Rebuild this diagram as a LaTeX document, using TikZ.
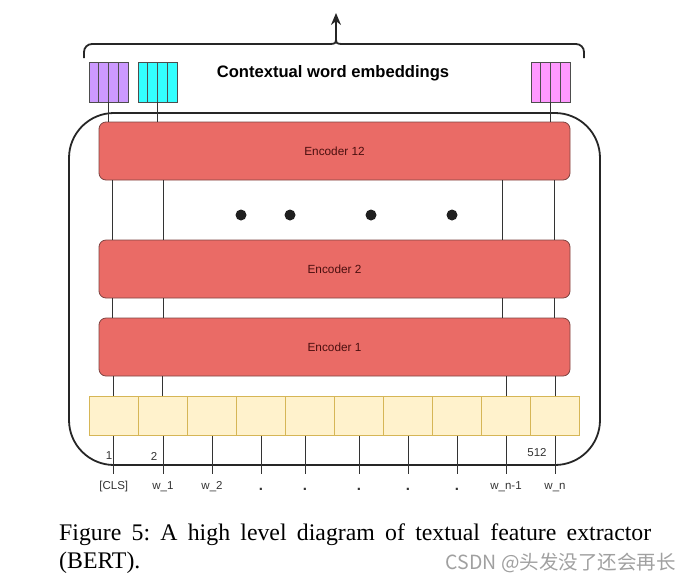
\documentclass[tikz,border=0pt]{standalone}
\usepackage{fontspec}
\setmainfont{Liberation Serif}
\newfontfamily\arialf{Liberation Sans}
\newfontfamily\cjkf{Noto Sans CJK SC}
\usetikzlibrary{arrows.meta,calc}
\definecolor{encfill}{HTML}{EA6B66}
\definecolor{encdraw}{HTML}{7E4442}
\definecolor{enctext}{HTML}{4A0F0F}
\definecolor{cellfill}{HTML}{FFF2CC}
\definecolor{celldraw}{HTML}{D6B656}
\definecolor{purpfill}{HTML}{CC99FF}
\definecolor{cyanfill}{HTML}{33FFFF}
\definecolor{pinkfill}{HTML}{FF99FF}
\definecolor{embdraw}{HTML}{4D4D4D}
\definecolor{linegray}{HTML}{333333}
\definecolor{wmgray}{HTML}{A0A0A0}
\frenchspacing
\begin{document}
\begin{tikzpicture}[x=1pt,y=-1pt,
  encoder/.style={draw=encdraw, line width=0.8pt, fill=encfill, rounded corners=7pt,
    minimum width=471pt, minimum height=58pt, inner sep=0,
    font=\arialf\fontsize{11.8}{12}\selectfont, text=enctext},
  cellbox/.style={draw=celldraw, line width=0.6pt, fill=cellfill,
    minimum width=49.03pt, minimum height=39pt, inner sep=0},
  stripe/.style={draw=embdraw, line width=0.7pt, minimum width=9.75pt,
    minimum height=40pt, inner sep=0},
  wire/.style={draw=linegray, line width=0.8pt},
  toklabel/.style={font=\arialf\fontsize{11.5}{12}\selectfont, text=linegray,
    inner sep=0, anchor=base},
  dotlabel/.style={font=\arialf\bfseries\fontsize{15}{15}\selectfont, text=linegray,
    inner sep=0, anchor=base},
  posnum/.style={font=\arialf\fontsize{11.5}{12}\selectfont, text=linegray, inner sep=0},
  bigdot/.style={circle, fill=black!88, inner sep=0, minimum size=11pt},
  outerbox/.style={draw=black!85, line width=1.8pt, rounded corners=45pt,
    minimum width=531pt, minimum height=352pt, inner sep=0},
]
\useasboundingbox (0,0) rectangle (690,582);

% outer container
\node[outerbox] (outer) at (334.5,289) {};

% encoders
\node[encoder] (enc12) at (334.5,151) {Encoder 12};
\node[encoder] (enc2) at (334.5,269) {Encoder 2};
\node[encoder] (enc1) at (334.5,347) {Encoder 1};

% embedding stripes
\foreach \i in {1,...,4}{
  \node[stripe, fill=purpfill] (p\i) at ({89+4.875+9.75*(\i-1)},82) {};
  \node[stripe, fill=cyanfill] (c\i) at ({138+4.875+9.75*(\i-1)},82) {};
  \node[stripe, fill=pinkfill] (k\i) at ({531+4.875+9.75*(\i-1)},82) {};
}

% title
\node[font=\arialf\bfseries\fontsize{16.6}{18}\selectfont] (title) at (333,73) {Contextual word embeddings};

% wires from embeddings to encoder 12
\draw[wire] (p2.south east) -- (p2.south east |- enc12.north);
\draw[wire] (c2.south east) -- (c2.south east |- enc12.north);
\draw[wire] (k2.south east) -- (k2.south east |- enc12.north);

% column coordinates between encoders
\coordinate (xa) at (112,0);
\coordinate (xb) at (163,0);
\coordinate (xc) at (502,0);
\coordinate (xd) at (554,0);
\foreach \c in {xa,xb,xc,xd}{
  \draw[wire] (enc12.south -| \c) -- (enc2.north -| \c);
  \draw[wire] (enc2.south -| \c) -- (enc1.north -| \c);
}

% big dots
\node[bigdot] (d1) at (241,215) {};
\node[bigdot] (d2) at (290,215) {};
\node[bigdot] (d3) at (371,215) {};
\node[bigdot] (d4) at (452,215) {};

% token cells
\foreach \i in {1,...,10}{
  \node[cellbox] (cell\i) at ({89.3+24.515+49.03*(\i-1)},416) {};
}

% wires from encoder 1 to cells
\foreach \i in {1,2,9,10}{
  \draw[wire] (cell\i.north) -- (cell\i.north |- enc1.south);
}

% token labels
\node[toklabel] (l1) at (113.8,489) {[CLS]};
\node[toklabel] (l2) at (162.9,489) {w\_1};
\node[toklabel] (l3) at (212,489) {w\_2};
\node[dotlabel] (l4) at (261,490) {.};
\node[dotlabel] (l5) at (305,490) {.};
\node[dotlabel] (l6) at (359,490) {.};
\node[dotlabel] (l7) at (408,490) {.};
\node[dotlabel] (l8) at (457,490) {.};
\node[toklabel] (l9) at (506,489) {w\_n-1};
\node[toklabel] (l10) at (555,489) {w\_n};

\coordinate (tickrow) at (0,474);
\foreach \i in {1,...,10}{
  \draw[wire] (l\i |- cell\i.south) -- (l\i |- tickrow);
}

% position numbers
\node[posnum] (n1) at (109,456) {1};
\node[posnum] (n2) at (154,456) {2};
\node[posnum] (n512) at (537,453) {512};

% brace and arrow
\coordinate (bl) at (84,58);
\coordinate (br) at (584,58);
\coordinate (bm) at (336,39);
\coordinate (atip) at (336,13);
\draw[line width=1.8pt, black!85, rounded corners=8pt] (bl) -- (84,44) -- (330,44);
\draw[line width=1.8pt, black!85, rounded corners=8pt] (br) -- (584,44) -- (342,44);
\draw[line width=1.8pt, black!85] (330,44) .. controls (335,44) and (336,43) .. (bm)
  .. controls (336,43) and (337,44) .. (342,44);
\draw[line width=1.8pt, black!85, -{Stealth[length=12pt,width=10pt]}] (bm) -- (atip);

% caption
\node[anchor=base west, inner sep=0, font=\fontsize{23.8}{28}\selectfont] (cap1) at (59,540)
  {\makebox[592pt][s]{Figure 5: A high level diagram of textual feature extractor}};
\node[anchor=base west, inner sep=0, font=\fontsize{23.8}{28}\selectfont] (cap2) at (59,568) {(BERT).};
\node[anchor=base east, inner sep=0, text=wmgray, font=\cjkf\fontsize{19.5}{20}\selectfont] (wm) at (676,569)
  {CSDN @头发没了还会再长};
\end{tikzpicture}
\end{document}
